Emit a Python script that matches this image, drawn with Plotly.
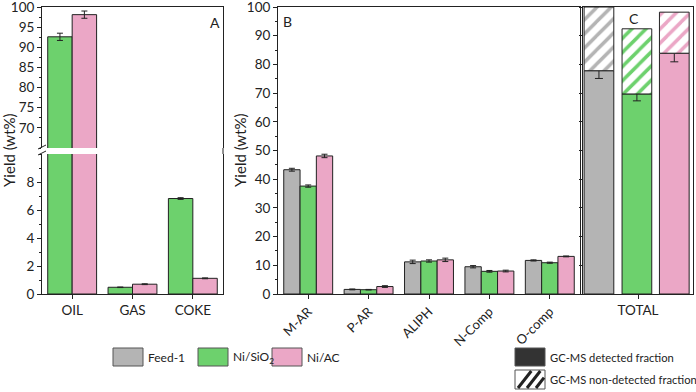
import plotly.graph_objects as go

W, H = 696, 392
def fx(x): return x / W
def fy(y): return 1 - y / H

# ---------------- data ----------------
a_cats = ['OIL', 'GAS', 'COKE']
a_nisio2 = [92.6, 0.48, 6.82]
a_nisio2_err = [0.9, 0.02, 0.06]
a_niac = [98.1, 0.70, 1.12]
a_niac_err = [0.9, 0.03, 0.03]

b_cats = ['M-AR', 'P-AR', 'ALIPH', 'N-Comp', 'O-comp']
b_feed = [43.3, 1.6, 11.2, 9.5, 11.7]
b_feed_err = [0.5, 0.15, 0.6, 0.4, 0.2]
b_nisio2 = [37.6, 1.5, 11.5, 7.9, 10.9]
b_nisio2_err = [0.4, 0.1, 0.4, 0.3, 0.2]
b_niac = [48.1, 2.6, 11.9, 8.0, 13.1]
b_niac_err = [0.6, 0.3, 0.6, 0.3, 0.15]

c_cat = ['TOTAL']
c_series = ['Feed-1', 'Ni/SiO2', 'Ni/AC']
c_detected = [77.8, 69.7, 83.9]
c_detected_err = [2.7, 2.4, 3.0]
c_total = [100.0, 92.4, 98.2]

# ---------------- style ----------------
GRAY = '#b4b4b4'
GREEN = '#6dd16d'
PINK = '#eba7c6'
LINE = '#222222'
FONT = 'Lato'
colors = [GRAY, GREEN, PINK]

def err(vals):
    return dict(type='data', array=vals, visible=True, color=LINE, thickness=1, width=3)

fig = go.Figure()

# Panel A (broken axis: lower y, upper y2)
for ya, xa in (('y', 'x'), ('y2', 'x2')):
    fig.add_trace(go.Bar(x=a_cats, y=a_nisio2, error_y=err(a_nisio2_err),
                         marker=dict(color=GREEN, line=dict(color=LINE, width=1)),
                         xaxis=xa, yaxis=ya, showlegend=False))
    fig.add_trace(go.Bar(x=a_cats, y=a_niac, error_y=err(a_niac_err),
                         marker=dict(color=PINK, line=dict(color=LINE, width=1)),
                         xaxis=xa, yaxis=ya, showlegend=False))

# Panel B
for vals, errs, col in ((b_feed, b_feed_err, GRAY), (b_nisio2, b_nisio2_err, GREEN),
                        (b_niac, b_niac_err, PINK)):
    fig.add_trace(go.Bar(x=b_cats, y=vals, error_y=err(errs),
                         marker=dict(color=col, line=dict(color=LINE, width=1)),
                         xaxis='x3', yaxis='y3', showlegend=False))

# Panel C
offsets = [-0.49, -0.145, 0.195]
bw = 0.27
for i, col in enumerate(colors):
    fig.add_trace(go.Bar(x=c_cat, y=[c_detected[i]], width=bw, offset=offsets[i],
                         error_y=dict(type='data', array=[c_detected_err[i]], visible=True,
                                      color=LINE, thickness=1, width=4),
                         marker=dict(color=col, line=dict(color=LINE, width=1)),
                         xaxis='x4', yaxis='y4', showlegend=False))
    fig.add_trace(go.Bar(x=c_cat, y=[c_total[i] - c_detected[i]], base=[c_detected[i]],
                         width=bw, offset=offsets[i],
                         marker=dict(color='white', line=dict(color=LINE, width=1),
                                     pattern=dict(shape='/', fgcolor=col, bgcolor='white',
                                                  size=10, solidity=0.35)),
                         xaxis='x4', yaxis='y4', showlegend=False))

tickfont = dict(family=FONT, size=13.5, color=LINE)
common_x = dict(showline=True, linecolor=LINE, linewidth=1, ticks='outside', ticklen=4,
                tickcolor=LINE, tickfont=tickfont, showgrid=False, zeroline=False,
                automargin=False)
common_y = dict(showline=True, linecolor=LINE, linewidth=1, ticks='outside', ticklen=4,
                tickcolor=LINE, tickfont=tickfont, showgrid=False, zeroline=False, mirror=True,
                ticklabeloverflow='allow', automargin=False)

fig.update_layout(
    template='none',
    width=W, height=H, margin=dict(l=0, r=0, t=0, b=0, autoexpand=False),
    paper_bgcolor='white', plot_bgcolor='white',
    barmode='group', bargap=0.19, bargroupgap=0, showlegend=False,
    font=dict(family=FONT, color=LINE),
    xaxis=dict(domain=[fx(42), fx(223)], anchor='y', **common_x),
    yaxis=dict(domain=[fy(294), fy(154)], anchor='x', range=[0, 10],
               tickvals=[0, 2, 4, 6, 8],
               minor=dict(dtick=1, ticks='outside', ticklen=2, tickcolor=LINE), **common_y),
    xaxis2=dict(domain=[fx(42), fx(223)], anchor='y2', matches='x', side='top',
                showline=True, linecolor=LINE, linewidth=1, showticklabels=False, ticks='',
                showgrid=False, zeroline=False, automargin=False),
    yaxis2=dict(domain=[fy(148), fy(7)], anchor='x2', range=[65, 100],
                tickvals=[70, 75, 80, 85, 90, 95, 100],
                minor=dict(dtick=2.5, ticks='outside', ticklen=2, tickcolor=LINE), **common_y),
    xaxis3=dict(domain=[fx(278), fx(580)], anchor='y3', mirror=True, tickangle=-45,
                **{k: v for k, v in common_x.items() if k != 'tickfont'},
                tickfont=dict(family=FONT, size=13, color=LINE)),
    yaxis3=dict(domain=[fy(294), fy(7)], anchor='x3', range=[0, 100], dtick=10,
                minor=dict(dtick=5, ticks='outside', ticklen=2, tickcolor=LINE), **common_y),
    xaxis4=dict(domain=[fx(583), fx(693)], anchor='y4', mirror=True, **common_x),
    yaxis4=dict(domain=[fy(294), fy(7)], anchor='x4', range=[0, 100], dtick=10,
                showticklabels=False,
                **{k: v for k, v in common_y.items() if k not in ('ticklen',)}, ticklen=3),
)

ann = []
def text(x, y, s, size=14, xanchor='center', **kw):
    ann.append(dict(x=fx(x), y=fy(y), xref='paper', yref='paper', text=s, showarrow=False,
                    xanchor=xanchor, yanchor='middle',
                    font=dict(family=FONT, size=size, color=LINE), **kw))

text(9, 150, 'Yield (wt%)', size=15, textangle=-90)
text(240, 150, 'Yield (wt%)', size=15, textangle=-90)
text(215, 23, 'A')
text(287, 21, 'B')
text(634, 18, 'C')

shapes = []
# break marks on the left axis of panel A
for yb in (147, 153):
    shapes.append(dict(type='line', xref='paper', yref='paper', x0=fx(38), y0=fy(yb + 2),
                       x1=fx(46), y1=fy(yb - 2), line=dict(color=LINE, width=1)))
# right border continuing through the gap
shapes.append(dict(type='line', xref='paper', yref='paper', x0=fx(223), x1=fx(223),
                   y0=fy(148), y1=fy(154), line=dict(color=LINE, width=1)))

# legend 1
leg_items = [(GRAY, 'Feed-1', 113), (GREEN, 'Ni/SiO<sub>2</sub>', 198), (PINK, 'Ni/AC', 272)]
for col, lab, x0 in leg_items:
    shapes.append(dict(type='rect', xref='paper', yref='paper', x0=fx(x0), x1=fx(x0 + 30),
                       y0=fy(366), y1=fy(348), fillcolor=col, line=dict(color='#555', width=1)))
    text(x0 + 33, 357, lab, size=12, xanchor='left')

# legend 2
shapes.append(dict(type='rect', xref='paper', yref='paper', x0=fx(515), x1=fx(545),
                   y0=fy(366), y1=fy(348), fillcolor='#333333', line=dict(color='#555', width=1)))
text(548, 357, 'GC-MS detected fraction', size=11.2, xanchor='left')
bx0, bx1, by0, by1 = 515, 545, 370, 389
shapes.append(dict(type='rect', xref='paper', yref='paper', x0=fx(bx0), x1=fx(bx1),
                   y0=fy(by1), y1=fy(by0), fillcolor='white', line=dict(color='#555', width=1)))
hgt = by1 - by0
for xs in (bx0 + 3, bx0 + 12, bx0 + 21):
    xe = min(xs + hgt * 0.7, bx1 - 1)
    ye = by1 - (xe - xs) / 0.7
    shapes.append(dict(type='line', xref='paper', yref='paper', x0=fx(xs), y0=fy(by1 - 1),
                       x1=fx(xe), y1=fy(max(ye, by0 + 1)), line=dict(color='#222', width=3)))
text(548, 379, 'GC-MS non-detected fraction', size=11.2, xanchor='left')

fig.update_layout(annotations=ann, shapes=shapes)
fig.write_html('out.html', config={'displayModeBar': False},
               post_script="document.body.style.margin='0';document.body.style.overflow='hidden';")
